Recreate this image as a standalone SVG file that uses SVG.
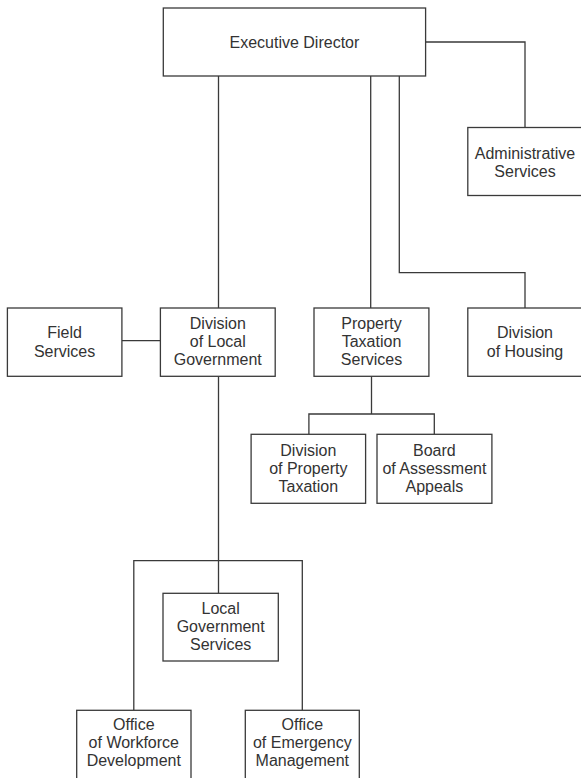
<svg xmlns="http://www.w3.org/2000/svg" width="581" height="778" viewBox="0 0 581 778">
<style>
.box{fill:#fff;stroke:#3a3a3a;stroke-width:1.3}
.ln{fill:none;stroke:#3a3a3a;stroke-width:1.3}
text{font-family:"Liberation Sans",Arial,sans-serif;font-size:16px;fill:#333;text-anchor:middle}
</style>
<rect width="581" height="778" fill="#fff"/>
<g id="connectors">
<path class="ln" d="M425.6 42 H525 V127.5"/>
<path class="ln" d="M218.5 76 V308"/>
<path class="ln" d="M370.7 76 V308"/>
<path class="ln" d="M399.3 76 V272.7 H525 V308"/>
<path class="ln" d="M121.9 340.7 H160.4"/>
<path class="ln" d="M371.5 376.3 V414 M308.9 434.3 V414 H434.3 V434.3"/>
<path class="ln" d="M218.5 376.3 V593.3 M133.8 710.3 V560.7 H302.3 V710.3"/>
</g>
<g id="executive-director">
<rect class="box" x="163.3" y="8" width="262.3" height="68"/>
<text x="294.4" y="47.5">Executive Director</text>
</g>
<g id="administrative-services">
<rect class="box" x="467.8" y="127.5" width="120" height="68"/>
<text x="525" y="158.5">Administrative</text>
<text x="525" y="176.5">Services</text>
</g>
<g id="field-services">
<rect class="box" x="7.4" y="308" width="114.5" height="68.3"/>
<text x="64.6" y="338">Field</text>
<text x="64.6" y="356.5">Services</text>
</g>
<g id="division-local-government">
<rect class="box" x="160.4" y="308" width="114.8" height="68.3"/>
<text x="217.8" y="329">Division</text>
<text x="217.8" y="347">of Local</text>
<text x="217.8" y="365">Government</text>
</g>
<g id="property-taxation-services">
<rect class="box" x="314" y="308" width="114.9" height="68.3"/>
<text x="371.5" y="329">Property</text>
<text x="371.5" y="347">Taxation</text>
<text x="371.5" y="365">Services</text>
</g>
<g id="division-housing">
<rect class="box" x="467.8" y="308" width="120" height="68.3"/>
<text x="525" y="338">Division</text>
<text x="525" y="356.5">of Housing</text>
</g>
<g id="division-property-taxation">
<rect class="box" x="251.1" y="434.3" width="114.5" height="69"/>
<text x="308.3" y="456">Division</text>
<text x="308.3" y="474">of Property</text>
<text x="308.3" y="492">Taxation</text>
</g>
<g id="board-assessment-appeals">
<rect class="box" x="377" y="434.3" width="114.9" height="69"/>
<text x="434.4" y="456">Board</text>
<text x="434.4" y="474">of Assessment</text>
<text x="434.4" y="492">Appeals</text>
</g>
<g id="local-government-services">
<rect class="box" x="163" y="593.3" width="115.3" height="67.7"/>
<text x="220.7" y="614">Local</text>
<text x="220.7" y="632">Government</text>
<text x="220.7" y="650">Services</text>
</g>
<g id="office-workforce-development">
<rect class="box" x="76.7" y="710.3" width="114.3" height="75"/>
<text x="133.8" y="729.5">Office</text>
<text x="133.8" y="747.5">of Workforce</text>
<text x="133.8" y="765.5">Development</text>
</g>
<g id="office-emergency-management">
<rect class="box" x="245.3" y="710.3" width="114" height="75"/>
<text x="302.3" y="729.5">Office</text>
<text x="302.3" y="747.5">of Emergency</text>
<text x="302.3" y="765.5">Management</text>
</g>
</svg>
